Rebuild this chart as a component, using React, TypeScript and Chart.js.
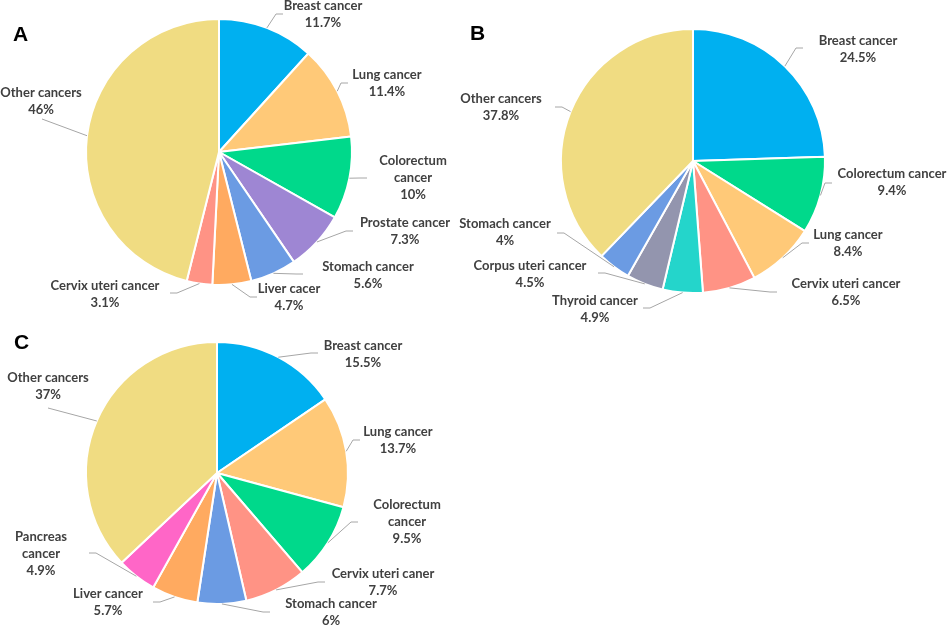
import React, { useEffect, useRef } from "react";
import { Chart, registerables } from "chart.js";

Chart.register(...registerables);

// ---------- Data ----------
const categoriesA = [
  "Breast cancer",
  "Lung cancer",
  "Colorectum\ncancer",
  "Prostate cancer",
  "Stomach cancer",
  "Liver cacer",
  "Cervix uteri cancer",
  "Other cancers",
];
const valuesA = [11.7, 11.4, 10, 7.3, 5.6, 4.7, 3.1, 46];

const categoriesB = [
  "Breast cancer",
  "Colorectum cancer",
  "Lung cancer",
  "Cervix uteri cancer",
  "Thyroid cancer",
  "Corpus uteri cancer",
  "Stomach cancer",
  "Other cancers",
];
const valuesB = [24.5, 9.4, 8.4, 6.5, 4.9, 4.5, 4, 37.8];

const categoriesC = [
  "Breast cancer",
  "Lung cancer",
  "Colorectum\ncancer",
  "Cervix uteri caner",
  "Stomach cancer",
  "Liver cancer",
  "Pancreas\ncancer",
  "Other cancers",
];
const valuesC = [15.5, 13.7, 9.5, 7.7, 6, 5.7, 4.9, 37];

// ---------- Styles ----------
const COL = {
  breast: "#00B0F0",
  lung: "#FFC978",
  colorectum: "#00D98B",
  prostate: "#9E86D3",
  stomach: "#6B9BE3",
  liver: "#FFAA60",
  cervix: "#FF9385",
  other: "#F0DC82",
  thyroid: "#24D5CB",
  corpus: "#9395AE",
  pancreas: "#FF66C7",
};
const colorsA = [COL.breast, COL.lung, COL.colorectum, COL.prostate, COL.stomach, COL.liver, COL.cervix, COL.other];
const colorsB = [COL.breast, COL.colorectum, COL.lung, COL.cervix, COL.thyroid, COL.corpus, COL.stomach, COL.other];
const colorsC = [COL.breast, COL.lung, COL.colorectum, COL.cervix, COL.stomach, COL.liver, COL.pancreas, COL.other];

// label block centre and leader-line end, relative to the pie centre (px)
const textPosA = [[104, -137.5], [168, -68.5], [194, 26], [186, 79.5], [149, 123], [70, 145.5], [-114, 142.5], [-178, -50.5]];
const linePosA = [[64, -138], [129, -69], [148, 26], [134, 79], [84, 122], [38, 145], [-49, 141], [-177, -33]];
const textPosB = [[165, -111.5], [199, 21.5], [155, 82.5], [153, 131.5], [-98, 148.5], [-163, 113], [-188, 71.5], [-192, -53.5]];
const linePosB = [[110, -113], [139, 22], [116, 82], [84, 131], [-50, 147], [-95, 112], [-136, 72], [-138, -54]];
const textPosC = [[146, -118.5], [181, -32.5], [190, 49], [166, 109.5], [114, 139.5], [-109, 129.5], [-176, 81], [-169, -86.5]];
const linePosC = [[101, -120], [143, -33], [141, 49], [108, 109], [53, 139], [-64, 129], [-128, 80], [-169, -65]];

const labelPlugin = {
  id: "leaderLabels",
  afterDatasetsDraw(chart: any, _args: any, opts: any) {
    const ctx = chart.ctx as CanvasRenderingContext2D;
    const meta = chart.getDatasetMeta(0);
    const ds = chart.data.datasets[0];
    const labels = chart.data.labels as string[];
    ctx.save();
    meta.data.forEach((arc: any, i: number) => {
      const { x, y, startAngle, endAngle, outerRadius } = arc.getProps(
        ["x", "y", "startAngle", "endAngle", "outerRadius"],
        true
      );
      const mid = (startAngle + endAngle) / 2;
      const ax = x + Math.cos(mid) * outerRadius;
      const ay = y + Math.sin(mid) * outerRadius;
      const [ox, oy] = opts.textPos[i];
      const [ex, ey] = opts.linePos[i];
      const px = x + ex;
      const py = y + ey;
      // leader line
      ctx.strokeStyle = "#A6A6A6";
      ctx.lineWidth = 1;
      ctx.beginPath();
      ctx.moveTo(ax, ay);
      if (Math.abs(ey - oy) < 4) {
        const d = ax - px;
        const ex2 = px + Math.sign(d) * Math.min(7, Math.abs(d));
        ctx.lineTo(ex2, py);
      }
      ctx.lineTo(px, py);
      ctx.stroke();
      // text
      const lines = [...String(labels[i]).split("\n"), `${ds.data[i]}%`];
      ctx.font = `bold ${opts.fontSize}px Lato`;
      ctx.fillStyle = "#404040";
      ctx.textAlign = "center";
      ctx.textBaseline = "middle";
      const n = lines.length;
      lines.forEach((t, k) => {
        ctx.fillText(t, x + ox, y + oy + (k - (n - 1) / 2) * opts.lineHeight);
      });
    });
    // panel letter
    ctx.font = "bold 21px 'Liberation Sans', Arial, sans-serif";
    ctx.fillStyle = "#000";
    ctx.textAlign = "left";
    ctx.textBaseline = "alphabetic";
    ctx.fillText(opts.letter, opts.letterPos[0], opts.letterPos[1]);
    ctx.restore();
  },
};

type PanelProps = {
  left: number;
  top: number;
  width: number;
  height: number;
  labels: string[];
  values: number[];
  colors: string[];
  padding: { left: number; right: number; top: number; bottom: number };
  textPos: number[][];
  linePos: number[][];
  letter: string;
  letterPos: number[];
};

function PiePanel(p: PanelProps) {
  const ref = useRef<HTMLCanvasElement>(null);
  useEffect(() => {
    const chart = new Chart(ref.current as HTMLCanvasElement, {
      type: "pie",
      data: {
        labels: p.labels,
        datasets: [
          {
            data: p.values,
            backgroundColor: p.colors,
            borderColor: "#FFFFFF",
            borderWidth: 2,
          },
        ],
      },
      options: {
        responsive: false,
        animation: false,
        layout: { padding: p.padding },
        plugins: {
          legend: { display: false },
          tooltip: { enabled: false },
          // @ts-ignore
          leaderLabels: {
            textPos: p.textPos,
            linePos: p.linePos,
            fontSize: 13,
            lineHeight: 17,
            letter: p.letter,
            letterPos: p.letterPos,
          },
        },
      },
      plugins: [labelPlugin as any],
    });
    return () => chart.destroy();
  }, []);
  return (
    <canvas
      ref={ref}
      width={p.width}
      height={p.height}
      style={{ position: "absolute", left: p.left, top: p.top, width: p.width, height: p.height }}
    />
  );
}

export default function App() {
  return (
    <div style={{ position: "absolute", left: 0, top: 0, width: 948, height: 627, background: "#FFFFFF", overflow: "hidden" }}>
      <PiePanel
        left={0}
        top={0}
        width={470}
        height={320}
        labels={categoriesA}
        values={valuesA}
        colors={colorsA}
        padding={{ left: 85, right: 117, top: 18, bottom: 34 }}
        textPos={textPosA}
        linePos={linePosA}
        letter="A"
        letterPos={[13, 41]}
      />
      <PiePanel
        left={440}
        top={0}
        width={508}
        height={330}
        labels={categoriesB}
        values={valuesB}
        colors={colorsB}
        padding={{ left: 120, right: 122, top: 28, bottom: 36 }}
        textPos={textPosB}
        linePos={linePosB}
        letter="B"
        letterPos={[30, 40]}
      />
      <PiePanel
        left={0}
        top={320}
        width={470}
        height={307}
        labels={categoriesC}
        values={valuesC}
        colors={colorsC}
        padding={{ left: 85, right: 121, top: 21, bottom: 22 }}
        textPos={textPosC}
        linePos={linePosC}
        letter="C"
        letterPos={[14, 29]}
      />
    </div>
  );
}
